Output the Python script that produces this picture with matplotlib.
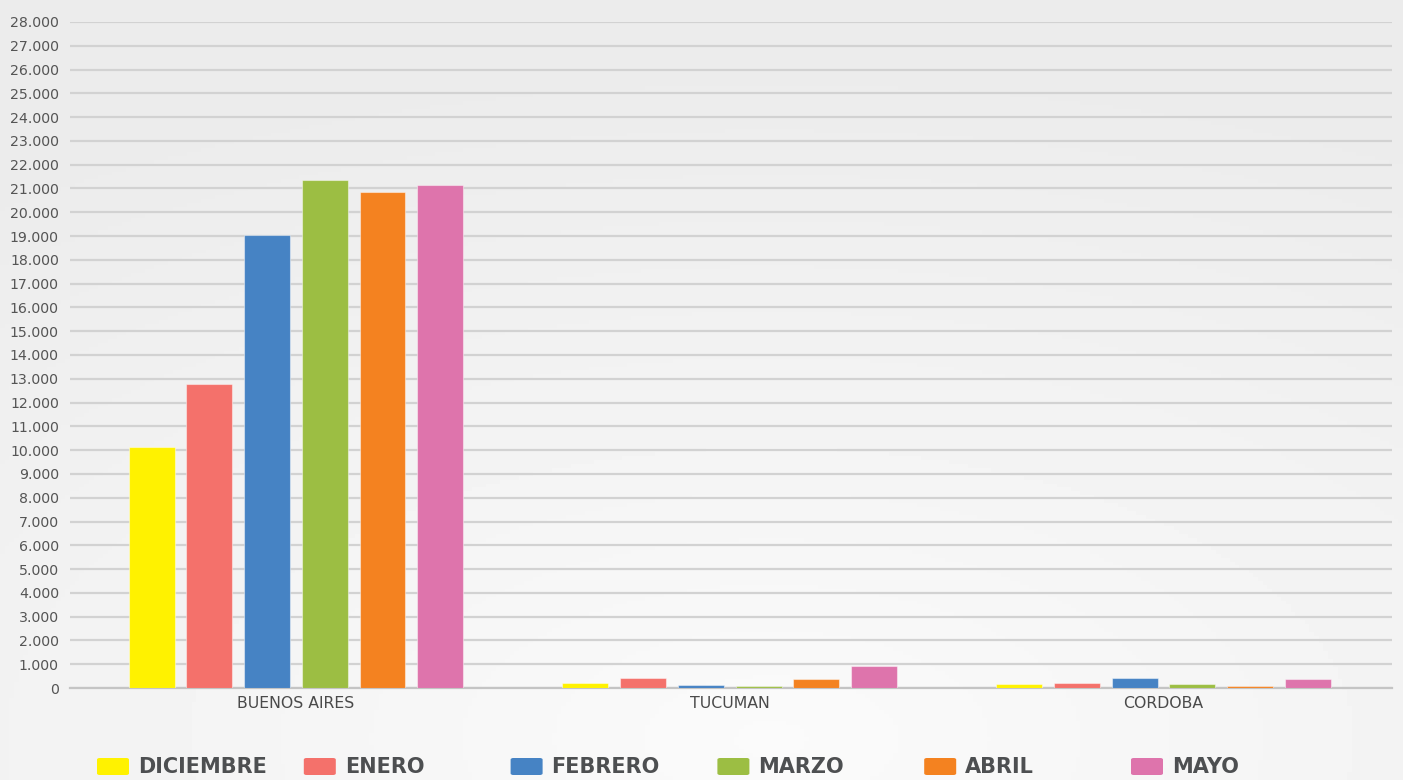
import matplotlib

matplotlib.use("Agg")

import matplotlib.pyplot as plt
import numpy as np
from matplotlib.patches import FancyBboxPatch

# data
provinces = ["BUENOS AIRES", "TUCUMAN", "CORDOBA"]
months = ["DICIEMBRE", "ENERO", "FEBRERO", "MARZO", "ABRIL", "MAYO"]
colors = ["#FFF200", "#F4716B", "#4683C4", "#9CBE43", "#F48220", "#DE74AC"]
diciembre = [10150, 210, 155]
enero = [12800, 420, 225]
febrero = [19030, 140, 440]
marzo = [21360, 70, 150]
abril = [20850, 365, 70]
mayo = [21140, 930, 365]
series = [diciembre, enero, febrero, marzo, abril, mayo]
yticks = np.arange(0, 28001, 1000)
ytick_labels = ["0"] + [f"{v // 1000}.000" for v in yticks[1:]]

W, H = 1403, 780
fig = plt.figure(figsize=(W / 100, H / 100), dpi=100)

# soft grey background gradient
bg = fig.add_axes([0, 0, 1, 1], zorder=-10)
gx, gy = np.meshgrid(np.linspace(0, 1, 300), np.linspace(0, 1, 200))
d = np.sqrt(((gx - 0.55) / 1.0) ** 2 + ((gy - 0.95) / 0.9) ** 2)
bg.imshow(0.982 - 0.06 * np.clip(d, 0, 1), cmap="gray", vmin=0, vmax=1,
          aspect="auto", extent=[0, 1, 0, 1], origin="upper")
bg.axis("off")

left, right, top, bottom = 70, 1392, 22, 688
ax = fig.add_axes([left / W, 1 - bottom / H, (right - left) / W, (bottom - top) / H])
ax.patch.set_alpha(0)

x = np.arange(len(provinces))
pitch = 0.133
width = 0.106
for i, (vals, c) in enumerate(zip(series, colors)):
    ax.bar(x + (i - 2.5) * pitch, vals, width, color=c,
           edgecolor=(1, 1, 1, 0.45), linewidth=0.8, zorder=3)

ax.set_xlim(-0.521, 2.527)
ax.set_ylim(0, 28000)
ax.set_yticks(yticks)
ax.set_yticklabels(ytick_labels)
ax.set_xticks(x)
ax.set_xticklabels(provinces)
ax.grid(axis="y", color="#d2d2d2", linewidth=1.6, zorder=0)
ax.tick_params(length=0)
ax.tick_params(axis="y", pad=8, labelsize=10.2, labelcolor="#555555")
ax.tick_params(axis="x", pad=6, labelsize=11.3, labelcolor="#4a4a4a")
for lab in ax.get_xticklabels() + ax.get_yticklabels():
    lab.set_family("DejaVu Sans")
for s in ["top", "right", "left"]:
    ax.spines[s].set_visible(False)
ax.spines["bottom"].set_color("#c4c4c4")
ax.spines["bottom"].set_linewidth(1.6)

# legend: equally spaced entries along the bottom
for i, (m, c) in enumerate(zip(months, colors)):
    px = 97 + i * 206.8
    fig.add_artist(FancyBboxPatch(((px) / W, 1 - 775 / H), 32 / W, 17 / H,
                                  boxstyle="round,pad=0,rounding_size=0.002",
                                  transform=fig.transFigure, color=c, lw=0))
    fig.text((px + 41) / W, 1 - 767 / H, m, fontsize=15, fontweight="bold",
             color="#4d4f51", family="DejaVu Sans", va="center", ha="left")

fig.savefig("out.png", dpi=100)
